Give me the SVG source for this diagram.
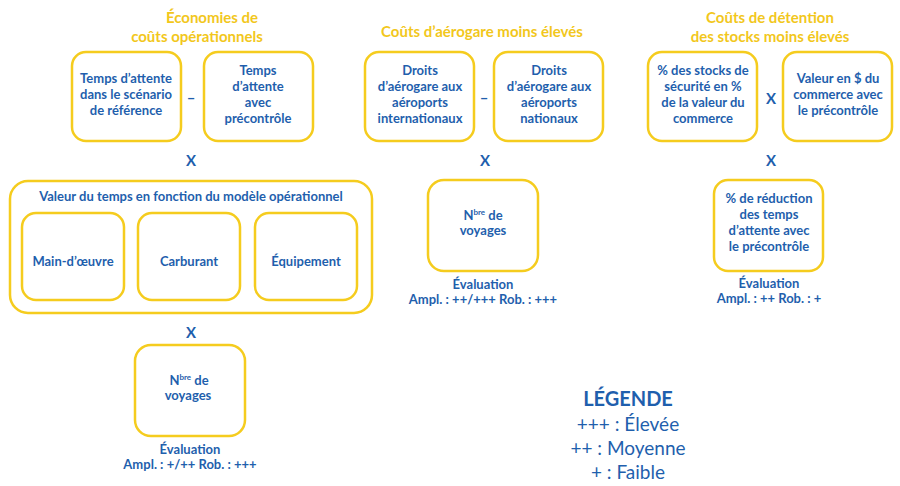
<svg xmlns="http://www.w3.org/2000/svg" width="900" height="486" viewBox="0 0 900 486">
<style>
.b{fill:#fff;stroke:#F5CC1E;stroke-width:2.5}
text{font-family:Lato,"Open Sans",sans-serif;font-weight:bold;fill:#1F5FAD;text-anchor:middle;font-size:13px}
.t{fill:#F2C71C;font-size:15px}
.op{font-size:15px}
.lg{font-weight:normal;font-size:19px}
</style>
<rect width="900" height="486" fill="#fff"/>
<text class="t" x="212" y="23">Économies de</text>
<text class="t" x="197" y="42">coûts opérationnels</text>
<text class="t" x="482" y="37">Coûts d’aérogare moins élevés</text>
<text class="t" x="770" y="23">Coûts de détention</text>
<text class="t" x="770" y="42">des stocks moins élevés</text>
<g id="connectors">
<text class="op" x="191" y="103">–</text>
<text class="op" x="191" y="166">X</text>
<text class="op" x="191" y="338">X</text>
<text class="op" x="484" y="103">–</text>
<text class="op" x="485" y="166">X</text>
<text class="op" x="771" y="104">X</text>
<text class="op" x="771" y="166">X</text>
</g>
<g id="a1"><rect class="b" x="72" y="52" width="109" height="89" rx="14"/><text x="126" y="83">Temps d’attente</text><text x="126" y="99">dans le scénario</text><text x="126" y="115">de référence</text></g>
<g id="a2"><rect class="b" x="204" y="52" width="109" height="89" rx="14"/><text x="258" y="75">Temps</text><text x="258" y="91">d’attente</text><text x="258" y="107">avec</text><text x="258" y="123">précontrôle</text></g>
<g id="valeur"><rect class="b" x="10" y="181" width="362" height="132" rx="18"/><text x="191" y="201">Valeur du temps en fonction du modèle opérationnel</text></g>
<g id="main"><rect class="b" x="22" y="213" width="102" height="87" rx="14"/><text x="73" y="266">Main-d’œuvre</text></g>
<g id="carb"><rect class="b" x="138" y="213" width="102" height="87" rx="14"/><text x="189" y="266">Carburant</text></g>
<g id="equip"><rect class="b" x="255" y="213" width="102" height="87" rx="14"/><text x="306" y="266">Équipement</text></g>
<g id="nb1"><rect class="b" x="135" y="345" width="110" height="91" rx="16"/><text x="189" y="385">N<tspan font-size="8" dy="-5">bre</tspan><tspan dy="5">  de</tspan></text><text x="188" y="400">voyages</text></g>
<g id="ev1"><text x="190" y="454">Évaluation</text><text x="190" y="469">Ampl. : +/++     Rob. : +++</text></g>
<g id="b1"><rect class="b" x="365" y="52" width="109" height="89" rx="14"/><text x="420" y="75">Droits</text><text x="420" y="91">d’aérogare aux</text><text x="420" y="107">aéroports</text><text x="420" y="123">internationaux</text></g>
<g id="b2"><rect class="b" x="494" y="52" width="109" height="89" rx="14"/><text x="549" y="75">Droits</text><text x="549" y="91">d’aérogare aux</text><text x="549" y="107">aéroports</text><text x="549" y="123">nationaux</text></g>
<g id="nb2"><rect class="b" x="428" y="180" width="110" height="91" rx="16"/><text x="483" y="220">N<tspan font-size="8" dy="-5">bre</tspan><tspan dy="5">  de</tspan></text><text x="483" y="235">voyages</text></g>
<g id="ev2"><text x="483" y="289">Évaluation</text><text x="483" y="304">Ampl. : ++/+++     Rob. : +++</text></g>
<g id="c1"><rect class="b" x="648" y="52" width="109" height="89" rx="14"/><text x="703" y="75">% des stocks de</text><text x="703" y="91">sécurité en %</text><text x="703" y="107">de la valeur du</text><text x="703" y="123">commerce</text></g>
<g id="c2"><rect class="b" x="783" y="52" width="109" height="89" rx="14"/><text x="838" y="83">Valeur en $ du</text><text x="838" y="99">commerce avec</text><text x="838" y="115">le précontrôle</text></g>
<g id="c3"><rect class="b" x="714" y="180" width="109" height="91" rx="14"/><text x="769" y="203">% de réduction</text><text x="769" y="219">des temps</text><text x="769" y="235">d’attente avec</text><text x="769" y="251">le précontrôle</text></g>
<g id="ev3"><text x="769" y="288">Évaluation</text><text x="769" y="303">Ampl. : ++      Rob. : +</text></g>
<g id="legend"><text x="628" y="406" style="font-size:20px">LÉGENDE</text><text class="lg" x="628" y="431">+++ : Élevée</text><text class="lg" x="628" y="455">++ : Moyenne</text><text class="lg" x="628" y="479">+ : Faible</text></g>
</svg>
